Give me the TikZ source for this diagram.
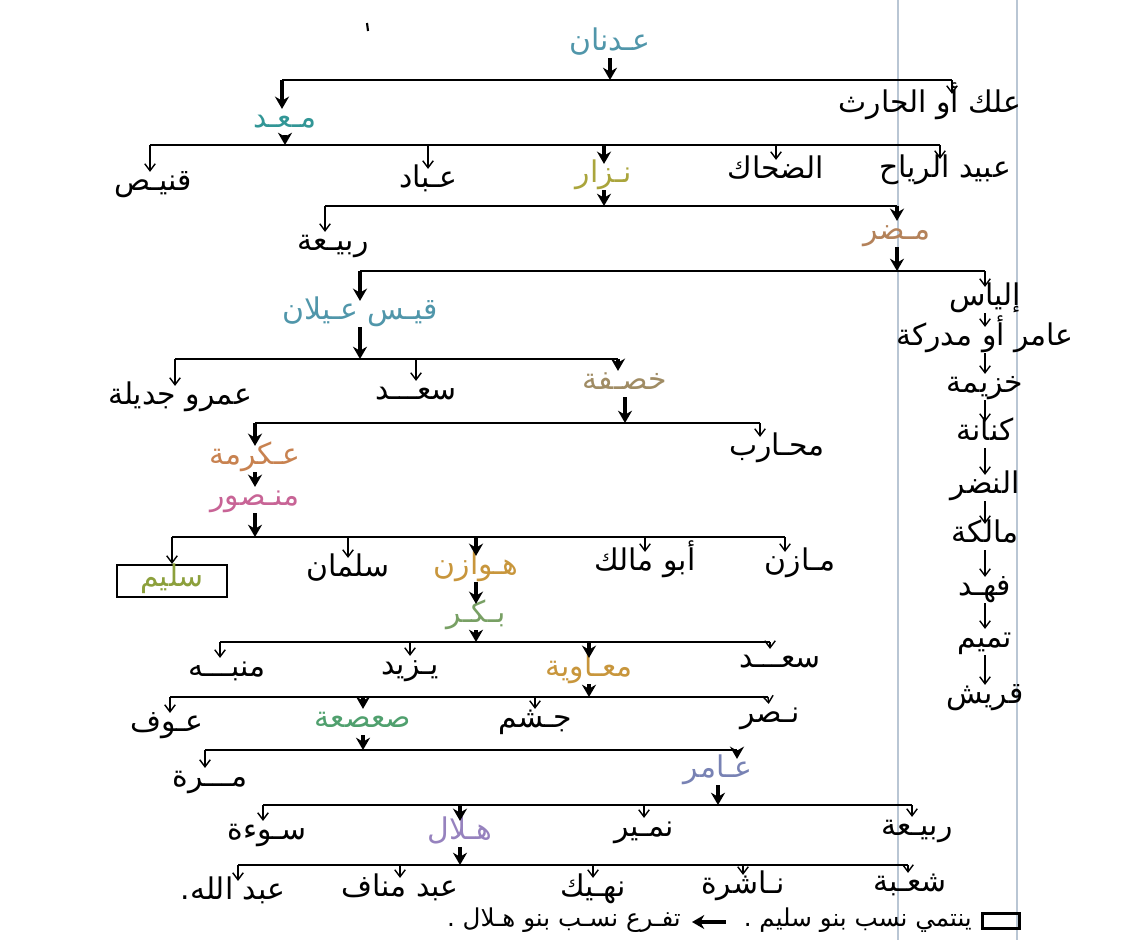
\documentclass[tikz,border=0pt]{standalone}
\usepackage{fontspec}
\newfontfamily\arabicfont[Script=Arabic]{DejaVu Sans}
\TeXXeTstate=1
\usetikzlibrary{arrows.meta,positioning}
\definecolor{inkteal}{RGB}{80,150,170}
\definecolor{inkcyan}{RGB}{50,150,150}
\definecolor{inkolive}{RGB}{170,165,60}
\definecolor{inkbrown}{RGB}{180,130,90}
\definecolor{inkkhaki}{RGB}{160,140,100}
\definecolor{inkorange}{RGB}{200,130,80}
\definecolor{inkpink}{RGB}{200,100,150}
\definecolor{inkgreen}{RGB}{140,160,60}
\definecolor{inkamber}{RGB}{200,150,60}
\definecolor{inksage}{RGB}{120,160,100}
\definecolor{inkmint}{RGB}{80,160,110}
\definecolor{inkblue}{RGB}{120,130,180}
\definecolor{inkviolet}{RGB}{150,130,190}
\definecolor{pageline}{RGB}{185,198,212}
\newcommand{\ar}[1]{\beginR #1\endR}

\begin{document}
\begin{tikzpicture}[x=0.02cm,y=-0.02cm,
	kin node/.style={font=\arabicfont\fontsize{17}{20}\selectfont,inner sep=0.5pt,text height=10pt,text depth=3.5pt},
	key node/.style={font=\arabicfont\fontsize{14}{16}\selectfont,inner sep=0.5pt,text height=8pt,text depth=3pt},
	big/.style={line width=1.8pt,-{Stealth[length=7pt,width=8pt]}},
	small/.style={line width=0.8pt,-{Straight Barb[length=4pt,width=6pt]}},
	bar/.style={line width=1.5pt}]
	
	\fill[white] (0,0) rectangle (1133,940);
	\useasboundingbox (0,0) rectangle (1133,940);
	\draw[pageline,line width=0.8pt] (898,0) -- (898,940);
	\draw[pageline,line width=0.8pt] (1017,0) -- (1017,940);
	\draw[line width=1.2pt] (367,23) -- (368,31);
	
	% adnan
	\node[kin node,text=inkteal] (adnan) at (610,45) {\ar{عـدنان}};
	\coordinate (b1l) at (282,80);
	\coordinate (b1r) at (952,80);
	\node[kin node,text=inkcyan] (maad) at (285,122) {\ar{مـعـد}};
	\node[kin node] (alak) at (930,107) {\ar{علك أو الحارث}};
	\draw[big] (adnan) -- (adnan |- b1l);
	\draw[bar] (b1l) -- (b1r);
	\draw[big] (b1l) -- (b1l |- maad.north);
	\draw[small] (b1r) -- (b1r |- alak.north);
	
	% maad
	\coordinate (b2l) at (150,145);
	\coordinate (b2r) at (940,145);
	\node[kin node] (qunays) at (153,185) {\ar{قنيـص}};
	\node[kin node] (abbad) at (428,182) {\ar{عـباد}};
	\node[kin node,text=inkolive] (nizar) at (604,177) {\ar{نـزار}};
	\node[kin node] (dahhak) at (776,173) {\ar{الضحاك}};
	\node[kin node] (ubayd) at (945,172) {\ar{عبيد الرياح}};
	\draw[big] (maad) -- (maad |- b2l);
	\draw[bar] (b2l) -- (b2r);
	\draw[small] (b2l) -- (b2l |- qunays.north);
	\draw[small] (abbad |- b2l) -- (abbad);
	\draw[big] (nizar |- b2l) -- (nizar);
	\draw[small] (dahhak |- b2l) -- (dahhak);
	\draw[small] (b2r) -- (b2r |- ubayd.north);
	
	% nizar
	\coordinate (b3l) at (325,206);
	\coordinate (b3r) at (897,206);
	\node[kin node] (rabia) at (333,245) {\ar{ربيـعة}};
	\node[kin node,text=inkbrown] (mudar) at (897,234) {\ar{مـضر}};
	\draw[big] (nizar) -- (nizar |- b3l);
	\draw[bar] (b3l) -- (b3r);
	\draw[small] (b3l) -- (b3l |- rabia.north);
	\draw[big] (b3r) -- (mudar);
	
	% mudar
	\coordinate (b4l) at (360,271);
	\coordinate (b4r) at (985,271);
	\node[kin node,text=inkteal] (qays) at (360,314) {\ar{قيـس عـيلان}};
	\node[kin node] (ilyas) at (985,300) {\ar{إلياس}};
	\draw[big] (mudar) -- (mudar |- b4l);
	\draw[bar] (b4l) -- (b4r);
	\draw[big] (b4l) -- (qays);
	\draw[small] (b4r) -- (ilyas);
	
	% ilyas line
	\node[kin node] (mudrika) at (985,340) {\ar{عامر أو مدركة}};
	\node[kin node] (khuzayma) at (985,387) {\ar{خزيمة}};
	\node[kin node] (kinana) at (985,435) {\ar{كنانة}};
	\node[kin node] (nadr) at (985,488) {\ar{النضر}};
	\node[kin node] (malika) at (985,537) {\ar{مالكة}};
	\node[kin node] (fahd) at (985,590) {\ar{فهـد}};
	\node[kin node] (tamim) at (985,642) {\ar{تميم}};
	\node[kin node] (quraysh) at (985,698) {\ar{قريش}};
	\draw[small] (ilyas) -- (mudrika);
	\draw[small] (mudrika) -- (khuzayma);
	\draw[small] (khuzayma) -- (kinana);
	\draw[small] (kinana) -- (nadr);
	\draw[small] (nadr) -- (malika);
	\draw[small] (malika) -- (fahd);
	\draw[small] (fahd) -- (tamim);
	\draw[small] (tamim) -- (quraysh);
	
	% qays
	\coordinate (b5l) at (175,359);
	\coordinate (b5r) at (618,359);
	\node[kin node] (amr) at (180,399) {\ar{عمرو جديلة}};
	\node[kin node] (saad) at (416,394) {\ar{سعـــد}};
	\node[kin node,text=inkkhaki] (khasafa) at (625,384) {\ar{خصـفة}};
	\draw[big] (qays) -- (qays |- b5l);
	\draw[bar] (b5l) -- (b5r);
	\draw[small] (b5l) -- (b5l |- amr.north);
	\draw[small] (saad |- b5l) -- (saad);
	\draw[big] (b5r) -- (b5r |- khasafa.north);
	
	% khasafa
	\coordinate (b6l) at (255,423);
	\coordinate (b6r) at (760,423);
	\node[kin node,text=inkorange] (ikrima) at (255,459) {\ar{عـكرمة}};
	\node[kin node] (muharib) at (777,450) {\ar{محـارب}};
	\node[kin node,text=inkpink] (mansur) at (255,500) {\ar{منـصور}};
	\draw[big] (khasafa) -- (khasafa |- b6l);
	\draw[bar] (b6l) -- (b6r);
	\draw[big] (b6l) -- (ikrima);
	\draw[small] (b6r) -- (b6r |- muharib.north);
	\draw[big] (ikrima) -- (mansur);
	
	% mansur
	\coordinate (b7l) at (172,537);
	\coordinate (b7r) at (785,537);
	\node[kin node,text=inkgreen,draw=black,line width=1.2pt,minimum width=2.2cm,minimum height=0.64cm] (sulaym) at (172,581) {\ar{سليم}};
	\node[kin node] (salman) at (348,571) {\ar{سلمان}};
	\node[kin node,text=inkamber] (hawazin) at (476,569) {\ar{هـوازن}};
	\node[kin node] (abumalik) at (645,565) {\ar{أبو مالك}};
	\node[kin node] (mazin) at (800,565) {\ar{مـازن}};
	\draw[big] (mansur) -- (mansur |- b7l);
	\draw[bar] (b7l) -- (b7r);
	\draw[small] (b7l) -- (sulaym);
	\draw[small] (salman |- b7l) -- (salman);
	\draw[big] (hawazin |- b7l) -- (hawazin);
	\draw[small] (abumalik |- b7l) -- (abumalik);
	\draw[small] (b7r) -- (b7r |- mazin.north);
	
	% hawazin
	\node[kin node,text=inksage] (bakr) at (476,617) {\ar{بـكـر}};
	\draw[big] (hawazin) -- (bakr);
	\coordinate (b8l) at (220,642);
	\coordinate (b8r) at (770,642);
	\node[kin node] (munabbih) at (227,671) {\ar{منبـــه}};
	\node[kin node] (yazid) at (410,669) {\ar{يـزيد}};
	\node[kin node,text=inkamber] (muawiya) at (589,671) {\ar{معـاوية}};
	\node[kin node] (saadb) at (780,662) {\ar{سعـــد}};
	\draw[big] (bakr) -- (bakr |- b8l);
	\draw[bar] (b8l) -- (b8r);
	\draw[small] (b8l) -- (b8l |- munabbih.north);
	\draw[small] (yazid |- b8l) -- (yazid);
	\draw[big] (muawiya |- b8l) -- (muawiya);
	\draw[small] (b8r) -- (b8r |- saadb.north);
	
	% muawiya
	\coordinate (b9l) at (170,697);
	\coordinate (b9r) at (768,697);
	\node[kin node] (awf) at (167,726) {\ar{عـوف}};
	\node[kin node,text=inkmint] (sasaa) at (363,722) {\ar{صعصعة}};
	\node[kin node] (jusham) at (535,722) {\ar{جـشم}};
	\node[kin node] (nasr) at (770,717) {\ar{نـصر}};
	\draw[big] (muawiya) -- (muawiya |- b9l);
	\draw[bar] (b9l) -- (b9r);
	\draw[small] (b9l) -- (b9l |- awf.north);
	\draw[big] (sasaa |- b9l) -- (sasaa);
	\draw[small] (jusham |- b9l) -- (jusham);
	\draw[small] (b9r) -- (nasr);
	
	% sasaa
	\coordinate (b10l) at (205,750);
	\coordinate (b10r) at (737,750);
	\node[kin node] (murra) at (210,781) {\ar{مـــرة}};
	\node[kin node,text=inkblue] (amir) at (718,772) {\ar{عـامر}};
	\draw[big] (sasaa) -- (sasaa |- b10l);
	\draw[bar] (b10l) -- (b10r);
	\draw[small] (b10l) -- (b10l |- murra.north);
	\draw[big] (b10r) -- (b10r |- amir.north);
	
	% amir
	\coordinate (b11l) at (263,805);
	\coordinate (b11r) at (912,805);
	\node[kin node] (sawa) at (267,834) {\ar{سـوءة}};
	\node[kin node,text=inkviolet] (hilal) at (460,834) {\ar{هـلال}};
	\node[kin node] (numayr) at (644,831) {\ar{نمـير}};
	\node[kin node] (rabib) at (917,830) {\ar{ربيـعة}};
	\draw[big] (amir) -- (amir |- b11l);
	\draw[bar] (b11l) -- (b11r);
	\draw[small] (b11l) -- (b11l |- sawa.north);
	\draw[big] (hilal |- b11l) -- (hilal);
	\draw[small] (numayr |- b11l) -- (numayr);
	\draw[small] (b11r) -- (b11r |- rabib.north);
	
	% hilal
	\coordinate (b12l) at (238,865);
	\coordinate (b12r) at (908,865);
	\node[kin node] (abdallah) at (233,894) {\ar{عبد الله.}};
	\node[kin node] (abdmanaf) at (400,891) {\ar{عبد مناف}};
	\node[kin node] (nuhayk) at (593,891) {\ar{نهـيك}};
	\node[kin node] (nashira) at (743,888) {\ar{نـاشرة}};
	\node[kin node] (shuba) at (910,886) {\ar{شعـبة}};
	\draw[big] (hilal) -- (hilal |- b12l);
	\draw[bar] (b12l) -- (b12r);
	\draw[small] (b12l) -- (b12l |- abdallah.north);
	\draw[small] (abdmanaf |- b12l) -- (abdmanaf);
	\draw[small] (nuhayk |- b12l) -- (nuhayk);
	\draw[small] (nashira |- b12l) -- (nashira);
	\draw[small] (b12r) -- (b12r |- shuba.north);
	
	% key
	\node[draw,line width=1.2pt,minimum width=0.74cm,minimum height=0.3cm] (keybox) at (1001,921) {};
	\node[key node,anchor=east] (keysulaym) at (973,922) {\ar{ينتمي نسب بنو سليم .}};
	\node[key node,anchor=east] (keyhilal) at (682,922) {\ar{تفـرع نسـب بنو هـلال .}};
	\draw[big,shorten <=0.34cm,shorten >=0.2cm] (keysulaym) -- (keyhilal);
\end{tikzpicture}
\end{document}
